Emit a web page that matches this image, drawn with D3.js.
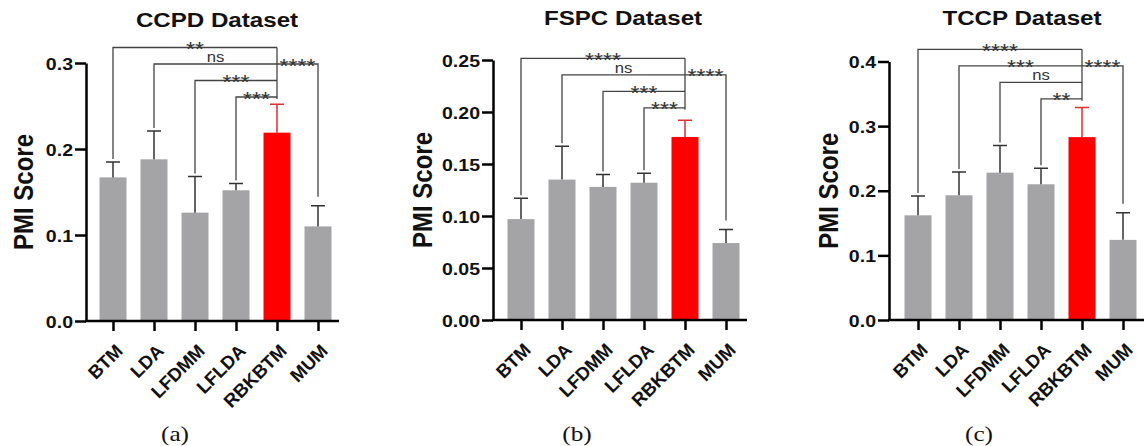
<!DOCTYPE html>
<html>
<head>
<meta charset="utf-8">
<script src="https://cdn.jsdelivr.net/npm/d3@7"></script>
<style>
  body { margin: 0; background: #fff; }
  svg { display: block; font-family: "Liberation Sans", Arial, sans-serif; }
</style>
</head>
<body>
<svg width="1147" height="446"></svg>
<script>
var categories = ["BTM", "LDA", "LFDMM", "LFLDA", "RBKBTM", "MUM"];

// mean and SD of PMI score per model
var ccpdMean = [0.167, 0.188, 0.126, 0.152, 0.219, 0.110];
var ccpdSd   = [0.018, 0.033, 0.042, 0.008, 0.033, 0.024];
var fspcMean = [0.097, 0.135, 0.128, 0.132, 0.176, 0.074];
var fspcSd   = [0.020, 0.032, 0.012, 0.009, 0.016, 0.013];
var tccpMean = [0.162, 0.193, 0.228, 0.210, 0.283, 0.124];
var tccpSd   = [0.030, 0.036, 0.042, 0.025, 0.046, 0.042];

// significance vs RBKBTM, in order BTM, LDA, LFDMM, LFLDA, MUM
var ccpdSig = ["**", "ns", "***", "***", "****"];
var fspcSig = ["****", "ns", "***", "***", "****"];
var tccpSig = ["****", "***", "ns", "**", "****"];

var ccpdTicks = [0, 0.1, 0.2, 0.3];
var fspcTicks = [0, 0.05, 0.10, 0.15, 0.20, 0.25];
var tccpTicks = [0, 0.1, 0.2, 0.3, 0.4];

var panels = [
  {title: "CCPD Dataset", caption: "(a)", mean: ccpdMean, sd: ccpdSd, sig: ccpdSig,
   ticks: ccpdTicks, fmt: ".1f", axisX: 86, x0: 113, yTop: 63, yBottom: 321,
   bracketTop: 47.5, titleX: 217, titleY: 27, labelX: 33, captionX: 175},
  {title: "FSPC Dataset", caption: "(b)", mean: fspcMean, sd: fspcSd, sig: fspcSig,
   ticks: fspcTicks, fmt: ".2f", axisX: 493, x0: 521, yTop: 60, yBottom: 320,
   bracketTop: 58.3, titleX: 623, titleY: 25, labelX: 432, captionX: 577},
  {title: "TCCP Dataset", caption: "(c)", mean: tccpMean, sd: tccpSd, sig: tccpSig,
   ticks: tccpTicks, fmt: ".1f", axisX: 889, x0: 918, yTop: 61.5, yBottom: 320,
   bracketTop: 49.3, titleX: 1022, titleY: 25, labelX: 838, captionX: 979}
];

var stretch = 1.15;
var step = 41;
var barW = 27;
var gap = 16.5;
var grey = "#a4a4a7";
var red = "#ff0000";
var svg = d3.select("svg");

panels.forEach(drawPanel);

function drawPanel(p){
  var x = d3.scalePoint().domain(categories).range([p.x0, p.x0 + step * 5]);
  var y = d3.scaleLinear().domain([0, d3.max(p.ticks)]).range([p.yBottom, p.yTop]);
  var g = svg.append("g");

  // bars
  g.selectAll("rect.bar")
    .data(categories)
    .enter().append("rect")
    .attr("x", function(d){ return x(d) - barW / 2; })
    .attr("y", function(d, i){ return y(p.mean[i]); })
    .attr("width", barW)
    .attr("height", function(d, i){ return y(0) - y(p.mean[i]); })
    .attr("fill", function(d){ return d === "RBKBTM" ? red : grey; });

  // error bars (upper only)
  categories.forEach(function(c, i){
    var cx = x(c), top = y(p.mean[i] + p.sd[i]);
    var col = c === "RBKBTM" ? "#e03030" : "#333";
    g.append("path")
      .attr("d", "M" + cx + "," + y(p.mean[i]) + "V" + top + "M" + (cx - 7) + "," + top + "H" + (cx + 7))
      .attr("stroke", col).attr("stroke-width", 1.5).attr("fill", "none");
  });

  // y axis
  var ya = g.append("g")
    .attr("transform", "translate(" + p.axisX + ",0)")
    .call(d3.axisLeft(y).tickValues(p.ticks).tickFormat(d3.format(p.fmt)).tickSize(11).tickSizeOuter(0));
  ya.select(".domain").attr("stroke-width", 2.5);
  ya.selectAll(".tick line").attr("stroke-width", 2.5);
  ya.selectAll(".tick text")
    .attr("x", null).attr("dy", null)
    .attr("transform", "translate(-13,6) scale(" + stretch + ",1)")
    .attr("font-size", 17).attr("font-weight", "bold").attr("fill", "#111");

  // x axis
  var xa = g.append("g")
    .attr("transform", "translate(0," + y(0) + ")")
    .call(d3.axisBottom(x).tickSize(10).tickSizeOuter(0));
  xa.select(".domain").remove();
  xa.append("line")
    .attr("x1", p.axisX - 1).attr("x2", x("MUM") + 21)
    .attr("stroke", "#000").attr("stroke-width", 2.5);
  xa.selectAll(".tick line").attr("stroke-width", 2.5);
  xa.selectAll(".tick text")
    .attr("y", null).attr("dy", null)
    .attr("text-anchor", "end")
    .attr("transform", "translate(10.5,31) rotate(-45)")
    .attr("font-size", 18.5).attr("font-weight", "bold").attr("fill", "#111");

  // significance brackets
  var rx = x("RBKBTM");
  var lineCol = "#444";
  for (var i = 0; i < 4; i++){
    var lx = x(categories[i]);
    var ly = p.bracketTop + i * gap;
    var lb = y(p.mean[i] + p.sd[i]) - 3;
    g.append("path")
      .attr("d", "M" + lx + "," + lb + "V" + ly + "H" + rx)
      .attr("stroke", lineCol).attr("stroke-width", 1.3).attr("fill", "none");
    sigLabel(g, (lx + rx) / 2, ly, p.sig[i]);
  }
  g.append("path")
    .attr("d", "M" + rx + "," + p.bracketTop + "V" + (p.bracketTop + 3 * gap + 2))
    .attr("stroke", lineCol).attr("stroke-width", 1.3).attr("fill", "none");
  var mx = x("MUM");
  var my = p.bracketTop + gap;
  g.append("path")
    .attr("d", "M" + rx + "," + my + "H" + mx + "V" + (y(p.mean[5] + p.sd[5]) - 9))
    .attr("stroke", lineCol).attr("stroke-width", 1.3).attr("fill", "none");
  sigLabel(g, (rx + mx) / 2, my, p.sig[4]);

  // title
  g.append("text")
    .attr("transform", "translate(" + p.titleX + "," + p.titleY + ") scale(" + stretch + ",1)")
    .attr("text-anchor", "middle")
    .attr("font-size", 21).attr("font-weight", "bold").attr("fill", "#111")
    .text(p.title);

  // y label
  g.append("text")
    .attr("transform", "translate(" + p.labelX + "," + ((p.yTop + p.yBottom) / 2) + ") scale(" + stretch + ",1) rotate(-90)")
    .attr("text-anchor", "middle")
    .attr("font-size", 24).attr("font-weight", "bold").attr("fill", "#111")
    .text("PMI Score");

  // caption
  g.append("text")
    .attr("transform", "translate(" + p.captionX + ",441) scale(" + stretch + ",1)")
    .attr("text-anchor", "middle")
    .attr("font-family", "'Liberation Serif', 'Times New Roman', serif")
    .attr("font-size", 22).attr("fill", "#111")
    .text(p.caption);
}

function sigLabel(g, cx, ly, s){
  var isNs = s === "ns";
  g.append("text")
    .attr("transform", "translate(" + cx + "," + (isNs ? ly - 2 : ly + 8.5) + ") scale(" + stretch + ",1)")
    .attr("text-anchor", "middle")
    .attr("font-size", isNs ? 14.5 : 20)
    .attr("fill", "#333")
    .text(s);
}
</script>
</body>
</html>
